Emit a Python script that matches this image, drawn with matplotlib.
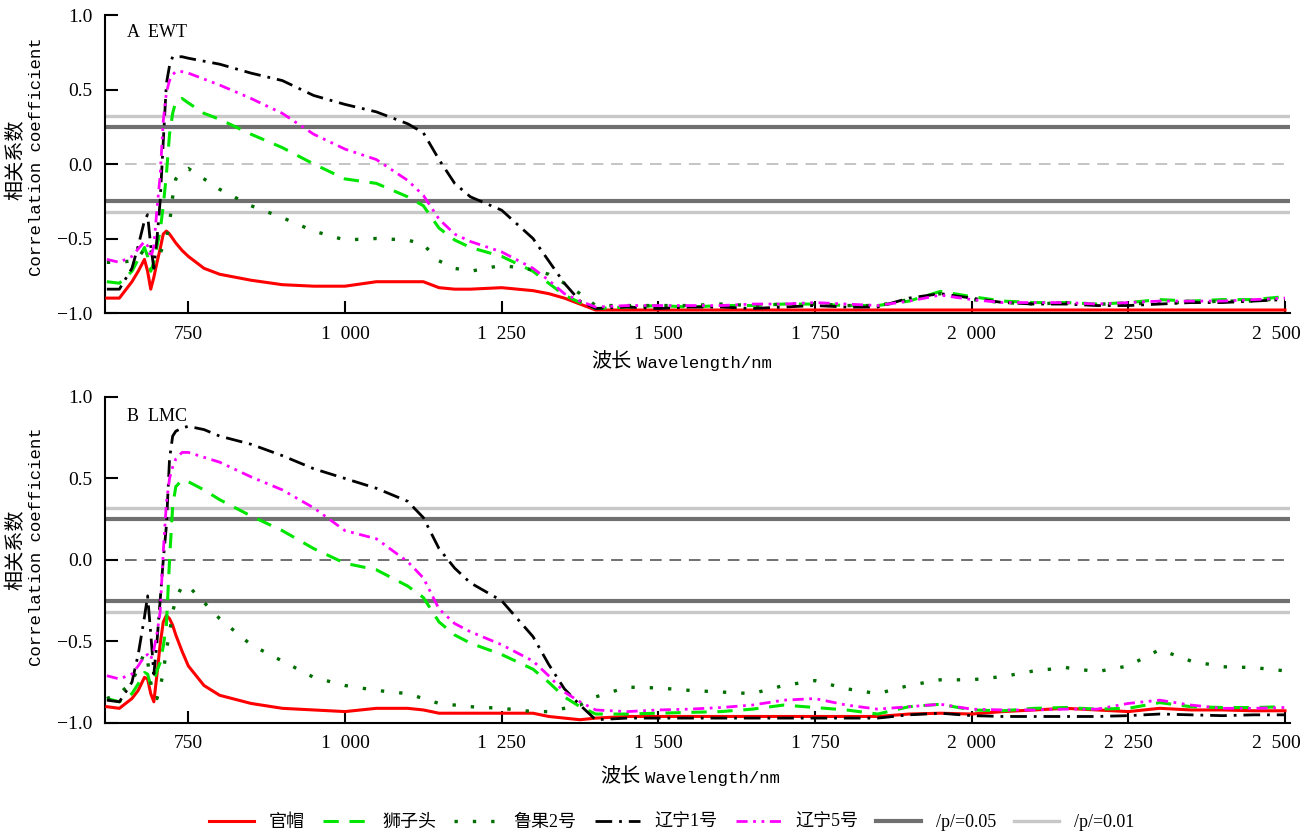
import matplotlib
matplotlib.use('Agg')
import matplotlib.pyplot as plt
import matplotlib.transforms as mtransforms

plt.rcParams['font.family'] = ['Liberation Serif', 'Noto Sans CJK SC']
plt.rcParams['axes.unicode_minus'] = True

# wavelength grid (nm)
wl = [620, 640, 660, 670, 680, 685, 690, 695, 700, 705, 710, 715, 720, 725, 730,
      740, 750, 775, 800, 850, 900, 950, 1000, 1050, 1100, 1125, 1150, 1175, 1200,
      1250, 1300, 1325, 1350, 1375, 1400, 1450, 1500, 1550, 1600, 1650, 1700, 1750,
      1800, 1850, 1900, 1950, 2000, 2050, 2100, 2150, 2200, 2250, 2300, 2350, 2400,
      2450, 2500]

# A EWT
ewt_guanmao = [-0.90, -0.90, -0.79, -0.72, -0.64, -0.72, -0.84, -0.76, -0.66, -0.57, -0.47, -0.45, -0.47, -0.50, -0.53,
               -0.58, -0.62, -0.70, -0.74, -0.78, -0.81, -0.82, -0.82, -0.79, -0.79, -0.79, -0.83, -0.84, -0.84,
               -0.83, -0.85, -0.87, -0.90, -0.94, -0.98, -0.98, -0.98, -0.98, -0.98, -0.98, -0.98, -0.98,
               -0.98, -0.98, -0.98, -0.98, -0.98, -0.98, -0.98, -0.98, -0.98, -0.98, -0.98, -0.98, -0.98,
               -0.98, -0.98]
ewt_shizitou = [-0.79, -0.80, -0.72, -0.64, -0.56, -0.62, -0.72, -0.66, -0.55, -0.45, -0.28, -0.07, 0.20, 0.34, 0.42,
                0.44, 0.41, 0.34, 0.30, 0.20, 0.11, 0.00, -0.10, -0.13, -0.22, -0.28, -0.43, -0.51, -0.56,
                -0.62, -0.72, -0.80, -0.88, -0.93, -0.97, -0.96, -0.95, -0.96, -0.95, -0.95, -0.94, -0.94,
                -0.95, -0.95, -0.92, -0.855, -0.89, -0.92, -0.93, -0.93, -0.94, -0.93, -0.91, -0.92, -0.91,
                -0.91, -0.89]
ewt_luguo2 = [-0.66, -0.66, -0.65, -0.63, -0.57, -0.54, -0.58, -0.63, -0.63, -0.60, -0.55, -0.50, -0.40, -0.22, -0.10,
              -0.05, -0.03, -0.10, -0.17, -0.28, -0.36, -0.45, -0.51, -0.50, -0.51, -0.54, -0.65, -0.70, -0.72,
              -0.68, -0.71, -0.74, -0.80, -0.87, -0.95, -0.95, -0.95, -0.95, -0.94, -0.95, -0.94, -0.94,
              -0.95, -0.95, -0.91, -0.87, -0.91, -0.93, -0.94, -0.93, -0.94, -0.94, -0.93, -0.93, -0.92,
              -0.92, -0.90]
ewt_liaoning1 = [-0.84, -0.84, -0.70, -0.55, -0.38, -0.34, -0.55, -0.70, -0.50, -0.25, 0.15, 0.54, 0.66, 0.72, 0.72,
                 0.72, 0.71, 0.69, 0.67, 0.61, 0.56, 0.46, 0.40, 0.35, 0.27, 0.21, 0.03, -0.13, -0.22,
                 -0.31, -0.50, -0.65, -0.80, -0.92, -0.97, -0.96, -0.97, -0.96, -0.96, -0.97, -0.96, -0.95,
                 -0.96, -0.96, -0.90, -0.87, -0.90, -0.93, -0.94, -0.94, -0.95, -0.95, -0.94, -0.93, -0.93,
                 -0.92, -0.91]
ewt_liaoning5 = [-0.64, -0.66, -0.62, -0.57, -0.52, -0.55, -0.63, -0.55, -0.30, -0.08, 0.29, 0.48, 0.56, 0.60, 0.62,
                 0.62, 0.61, 0.57, 0.53, 0.44, 0.34, 0.20, 0.10, 0.03, -0.11, -0.21, -0.37, -0.47, -0.52,
                 -0.59, -0.70, -0.78, -0.87, -0.92, -0.96, -0.95, -0.95, -0.95, -0.95, -0.94, -0.94, -0.93,
                 -0.94, -0.95, -0.92, -0.88, -0.91, -0.93, -0.93, -0.93, -0.94, -0.93, -0.92, -0.92, -0.92,
                 -0.91, -0.90]

# B LMC
lmc_guanmao = [-0.90, -0.91, -0.85, -0.80, -0.72, -0.73, -0.82, -0.87, -0.70, -0.52, -0.38, -0.34, -0.36, -0.40, -0.46,
               -0.56, -0.65, -0.77, -0.83, -0.88, -0.91, -0.92, -0.93, -0.91, -0.91, -0.92, -0.94, -0.94, -0.94,
               -0.94, -0.94, -0.96, -0.97, -0.98, -0.97, -0.96, -0.96, -0.96, -0.96, -0.96, -0.96, -0.96,
               -0.96, -0.96, -0.945, -0.94, -0.945, -0.93, -0.92, -0.91, -0.92, -0.93, -0.91, -0.92, -0.92,
               -0.925, -0.925]
lmc_shizitou = [-0.85, -0.87, -0.82, -0.76, -0.69, -0.70, -0.77, -0.74, -0.68, -0.63, -0.53, -0.40, 0.00, 0.33, 0.45,
                0.49, 0.48, 0.43, 0.37, 0.27, 0.18, 0.07, -0.02, -0.06, -0.16, -0.23, -0.38, -0.46, -0.51,
                -0.58, -0.67, -0.75, -0.84, -0.90, -0.945, -0.945, -0.94, -0.935, -0.93, -0.915, -0.89, -0.905,
                -0.92, -0.945, -0.90, -0.885, -0.92, -0.925, -0.91, -0.905, -0.915, -0.91, -0.875, -0.90, -0.905,
                -0.905, -0.90]
lmc_luguo2 = [-0.85, -0.82, -0.75, -0.66, -0.57, -0.62, -0.75, -0.84, -0.85, -0.78, -0.69, -0.55, -0.45, -0.32, -0.24,
              -0.16, -0.16, -0.26, -0.36, -0.52, -0.62, -0.72, -0.77, -0.80, -0.82, -0.85, -0.88, -0.89, -0.90,
              -0.91, -0.93, -0.93, -0.91, -0.89, -0.84, -0.78, -0.785, -0.80, -0.81, -0.82, -0.77, -0.74,
              -0.79, -0.82, -0.77, -0.735, -0.735, -0.715, -0.68, -0.66, -0.685, -0.65, -0.55, -0.62, -0.655,
              -0.66, -0.68]
lmc_liaoning1 = [-0.86, -0.87, -0.75, -0.58, -0.35, -0.22, -0.45, -0.70, -0.50, -0.25, 0.00, 0.21, 0.62, 0.76, 0.79,
                 0.81, 0.82, 0.80, 0.76, 0.71, 0.64, 0.56, 0.50, 0.44, 0.36, 0.26, 0.07, -0.05, -0.14,
                 -0.25, -0.47, -0.64, -0.79, -0.89, -0.98, -0.97, -0.97, -0.97, -0.97, -0.97, -0.97, -0.97,
                 -0.97, -0.97, -0.95, -0.94, -0.955, -0.96, -0.96, -0.96, -0.96, -0.955, -0.945, -0.95, -0.955,
                 -0.95, -0.95]
lmc_liaoning5 = [-0.71, -0.73, -0.70, -0.65, -0.59, -0.58, -0.61, -0.55, -0.45, -0.32, 0.05, 0.35, 0.50, 0.57, 0.62,
                 0.66, 0.66, 0.63, 0.60, 0.51, 0.43, 0.32, 0.18, 0.13, -0.01, -0.11, -0.30, -0.39, -0.44,
                 -0.52, -0.62, -0.71, -0.81, -0.87, -0.92, -0.93, -0.92, -0.915, -0.905, -0.89, -0.86, -0.85,
                 -0.89, -0.915, -0.90, -0.885, -0.915, -0.92, -0.92, -0.915, -0.915, -0.88, -0.86, -0.89, -0.91,
                 -0.91, -0.905]

names = ['官帽', '狮子头', '鲁果2号', '辽宁1号', '辽宁5号']
xtick_labels = ['750', '1  000', '1  250', '1  500', '1  750', '2  000', '2  250', '2  500']
p05 = 0.25
p01 = 0.32

styles = [
    dict(color='#ff0000', lw=2.2, ls='-'),
    dict(color='#00e600', lw=2.2, ls=(0, (5, 3.5))),
    dict(color='#006e00', lw=2.4, ls=(0, (1, 4.5))),
    dict(color='black', lw=2.0, ls=(0, (6, 2.5, 1, 2.5))),
    dict(color='#ff00ff', lw=2.0, ls=(0, (4, 2, 1, 2, 1, 2))),
]

mono = ['Liberation Mono', 'Noto Sans CJK SC']

fig = plt.figure(figsize=(13.09, 8.34), dpi=100)
ax1 = fig.add_axes([0.0802, 0.6247, 0.9053, 0.3573])
ax2 = fig.add_axes([0.0802, 0.1331, 0.9053, 0.3909])

panels = [
    (ax1, [ewt_guanmao, ewt_shizitou, ewt_luguo2, ewt_liaoning1, ewt_liaoning5], 'A  EWT', '#c4c4c4',
     0.515, 0.4447, -0.168),
    (ax2, [lmc_guanmao, lmc_shizitou, lmc_luguo2, lmc_liaoning1, lmc_liaoning5], 'B  LMC', '#707070',
     0.53, 0.452, -0.169),
]

for ax, series, tag, zc, ymid, xl, yl in panels:
    ax.axhline(p05, color='#707070', lw=3.0, label='/p/=0.05', zorder=1)
    ax.axhline(-p05, color='#707070', lw=3.0, zorder=1)
    ax.axhline(p01, color='#c8c8c8', lw=2.4, label='/p/=0.01', zorder=1)
    ax.axhline(-p01, color='#c8c8c8', lw=2.4, zorder=1)
    ax.axhline(0, xmin=0.017, color=zc, lw=1.4, ls=(0, (6, 4)), zorder=1)
    for vals, name, st in zip(series, names, styles):
        ax.plot(wl, vals, label=name, zorder=3, **st)

    ax.set_xlim(617, 2508)
    ax.set_ylim(-1.0, 1.0)
    ax.set_xticks([750, 1000, 1250, 1500, 1750, 2000, 2250, 2500])
    ax.set_xticklabels(xtick_labels)
    ax.set_yticks([1.0, 0.5, 0.0, -0.5, -1.0])
    ax.set_yticklabels(['1.0', '0.5', '0.0', '\u22120.5', '\u22121.0'])
    ax.tick_params(direction='in', length=9, width=1.5, labelsize=14, pad=9)
    ax.spines['top'].set_visible(False)
    ax.spines['right'].set_visible(False)
    ax.spines['left'].set_linewidth(1.5)
    ax.spines['bottom'].set_linewidth(1.5)

    # nudge the last x label left so it stays inside the figure
    last = ax.get_xticklabels()[-1]
    last.set_transform(last.get_transform() + mtransforms.ScaledTranslation(-9 / 100, 0, fig.dpi_scale_trans))

    # y label: Chinese line and English line
    ax.text(-0.0743, ymid, '相关系数', transform=ax.transAxes, rotation=90,
            fontsize=14.5, ha='center', va='center')
    ax.text(-0.0574, ymid + 0.01, 'Correlation coefficient', transform=ax.transAxes, rotation=90,
            family=mono, fontsize=12.5, ha='center', va='center')
    # x label
    ax.text(xl, yl, '波长', transform=ax.transAxes, fontsize=14.5, ha='right', va='center')
    ax.text(xl + 0.004, yl, 'Wavelength/nm', transform=ax.transAxes, family=mono,
            fontsize=12.5, ha='left', va='center')
    ax.text(0.019, 0.94, tag, transform=ax.transAxes, fontsize=13, va='center', ha='left')

h, l = ax1.get_legend_handles_labels()
order = [l.index(n) for n in names + ['/p/=0.05', '/p/=0.01']]
fig.legend([h[i] for i in order], [l[i] for i in order], loc='center', bbox_to_anchor=(0.513, 0.014),
           ncol=7, frameon=False, fontsize=13, handlelength=2.5, handletextpad=0.8, columnspacing=1.0)

fig.savefig('out.png', dpi=100)
